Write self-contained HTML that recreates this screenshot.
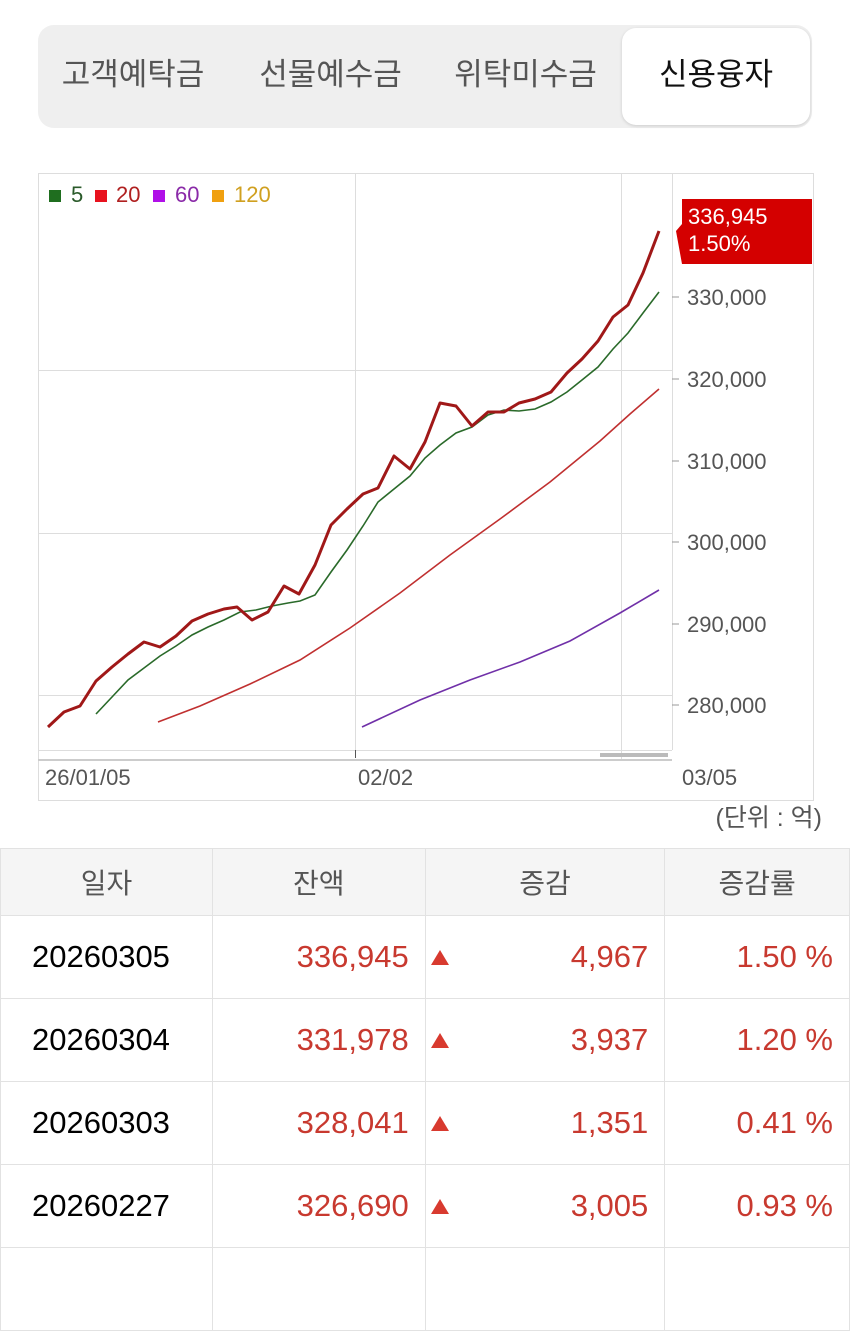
<!DOCTYPE html>
<html><head><meta charset="utf-8"><style>
*{margin:0;padding:0;box-sizing:border-box}
body{width:850px;height:1261px;background:#fff;overflow:hidden;position:relative;font-family:"Liberation Sans","Noto Sans CJK KR",sans-serif}
.tabs{position:absolute;left:38px;top:25px;width:774px;height:103px;background:#efefef;border-radius:16px}
.tab{position:absolute;top:0;height:103px;line-height:100px;font-size:31px;color:#555;text-align:center}
.act{position:absolute;left:584px;top:3px;width:188px;height:97px;background:#fff;border-radius:14px;box-shadow:0 1px 3px rgba(0,0,0,.15);line-height:94px;font-size:31px;color:#111;text-align:center}
table{position:absolute;left:0;top:848px;width:850px;border-collapse:collapse;font-size:31px}
td{border:1px solid #e2e2e2;height:83px;padding:0 16px}
td.d{padding-left:31px}
tr.h td{background:#f5f5f5;height:67px;text-align:center;color:#555;font-size:28px}
.r{color:#c8392f;text-align:right}
.tri{position:absolute;left:431px;width:0;height:0;border-left:9px solid transparent;border-right:9px solid transparent;border-bottom:15px solid #d83a2f}
</style></head><body>
<div class="tabs">
<div class="tab" style="left:0;width:190px">고객예탁금</div>
<div class="tab" style="left:195px;width:195px">선물예수금</div>
<div class="tab" style="left:390px;width:195px">위탁미수금</div>
<div class="act">신용융자</div>
</div>
<svg style="position:absolute;left:0;top:0" width="850" height="840">
<rect x="38.5" y="173.5" width="775" height="627" fill="none" stroke="#ddd"/>
<line x1="672.5" y1="173" x2="672.5" y2="750" stroke="#ddd"/>
<g stroke="#ddd" stroke-width="1">
<line x1="38" y1="370.5" x2="672" y2="370.5"/><line x1="38" y1="533.5" x2="672" y2="533.5"/><line x1="38" y1="695.5" x2="672" y2="695.5"/>
<line x1="355.5" y1="173" x2="355.5" y2="750"/><line x1="621.5" y1="173" x2="621.5" y2="760"/>
<line x1="38" y1="750.5" x2="672" y2="750.5"/></g>
<line x1="38" y1="760" x2="672" y2="760" stroke="#ccc" stroke-width="2"/>
<line x1="355.5" y1="750" x2="355.5" y2="758" stroke="#555"/>
<rect x="600" y="753" width="68" height="4" fill="#bbb"/>
<g stroke="#999"><line x1="672" y1="297" x2="679" y2="297"/><line x1="672" y1="379" x2="679" y2="379"/><line x1="672" y1="461" x2="679" y2="461"/><line x1="672" y1="542" x2="679" y2="542"/><line x1="672" y1="624" x2="679" y2="624"/><line x1="672" y1="705" x2="679" y2="705"/></g>
<g font-size="22" fill="#555"><text x="687" y="305">330,000</text><text x="687" y="387">320,000</text><text x="687" y="469">310,000</text><text x="687" y="550">300,000</text><text x="687" y="632">290,000</text><text x="687" y="713">280,000</text>
<text x="45" y="785">26/01/05</text><text x="358" y="785">02/02</text><text x="682" y="785">03/05</text></g>
<text x="822" y="826" font-size="25" fill="#555" text-anchor="end">(단위 : 억)</text>
<polygon points="682,199 812,199 812,264 682,264 676,231 682,224" fill="#d40000"/>
<text x="688" y="224" font-size="22" fill="#fff">336,945</text><text x="688" y="251" font-size="22" fill="#fff">1.50%</text>
<g font-size="22"><rect x="49" y="190" width="12" height="12" fill="#1f6e1f"/><text x="71" y="202" fill="#2a5a2a">5</text>
<rect x="95" y="190" width="12" height="12" fill="#e8121e"/><text x="116" y="202" fill="#b02020">20</text>
<rect x="153" y="190" width="12" height="12" fill="#b010e8"/><text x="175" y="202" fill="#8a2aa8">60</text>
<rect x="212" y="190" width="12" height="12" fill="#f0a010"/><text x="234" y="202" fill="#d0a020">120</text></g>
<polyline fill="none" stroke="#7030a8" stroke-width="1.6" points="362,727 420,700 470,680 520,662 570,641 620,613 659,590"/>
<polyline fill="none" stroke="#c03030" stroke-width="1.6" points="158,722 200,706 250,684 300,660 350,628 400,593 450,555 500,519 550,482 600,441 630,414 659,389"/>
<polyline fill="none" stroke="#2a6a2a" stroke-width="1.6" points="96,714 112,697 128,680 144,668 160,656 176,646 192,635 208,627 224,620 240,612 256,610 272,606 288,603 300,601 315,595 331,572 347,550 363,526 378,502 394,489 410,476 425,458 440,445 456,433 472,427 488,415 504,410 519,411 535,409 551,402 567,392 582,380 598,367 613,349 628,333 643,313 659,292"/>
<polyline fill="none" stroke="#a01818" stroke-width="3" stroke-linejoin="round" points="48,727 64,712 80,706 96,681 112,667 128,654 144,642 160,647 176,636 192,621 208,614 224,609 237,607 252,620 268,612 284,586 299,594 315,565 331,525 347,509 363,494 378,488 394,456 410,469 425,442 440,403 456,406 472,426 488,412 504,412 519,403 535,399 551,392 567,373 582,359 598,341 613,317 628,305 643,273 659,231"/>
</svg>
<table>
<colgroup><col style="width:212px"><col style="width:213px"><col style="width:240px"><col style="width:185px"></colgroup>
<tr class="h"><td>일자</td><td>잔액</td><td>증감</td><td>증감률</td></tr>
<tr><td class="d">20260305</td><td class="r">336,945</td><td class="r">4,967</td><td class="r">1.50 %</td></tr>
<tr><td class="d">20260304</td><td class="r">331,978</td><td class="r">3,937</td><td class="r">1.20 %</td></tr>
<tr><td class="d">20260303</td><td class="r">328,041</td><td class="r">1,351</td><td class="r">0.41 %</td></tr>
<tr><td class="d">20260227</td><td class="r">326,690</td><td class="r">3,005</td><td class="r">0.93 %</td></tr>
<tr><td></td><td></td><td></td><td></td></tr>
</table>
<div class="tri" style="top:950px"></div>
<div class="tri" style="top:1033px"></div>
<div class="tri" style="top:1116px"></div>
<div class="tri" style="top:1199px"></div>
</body></html>
